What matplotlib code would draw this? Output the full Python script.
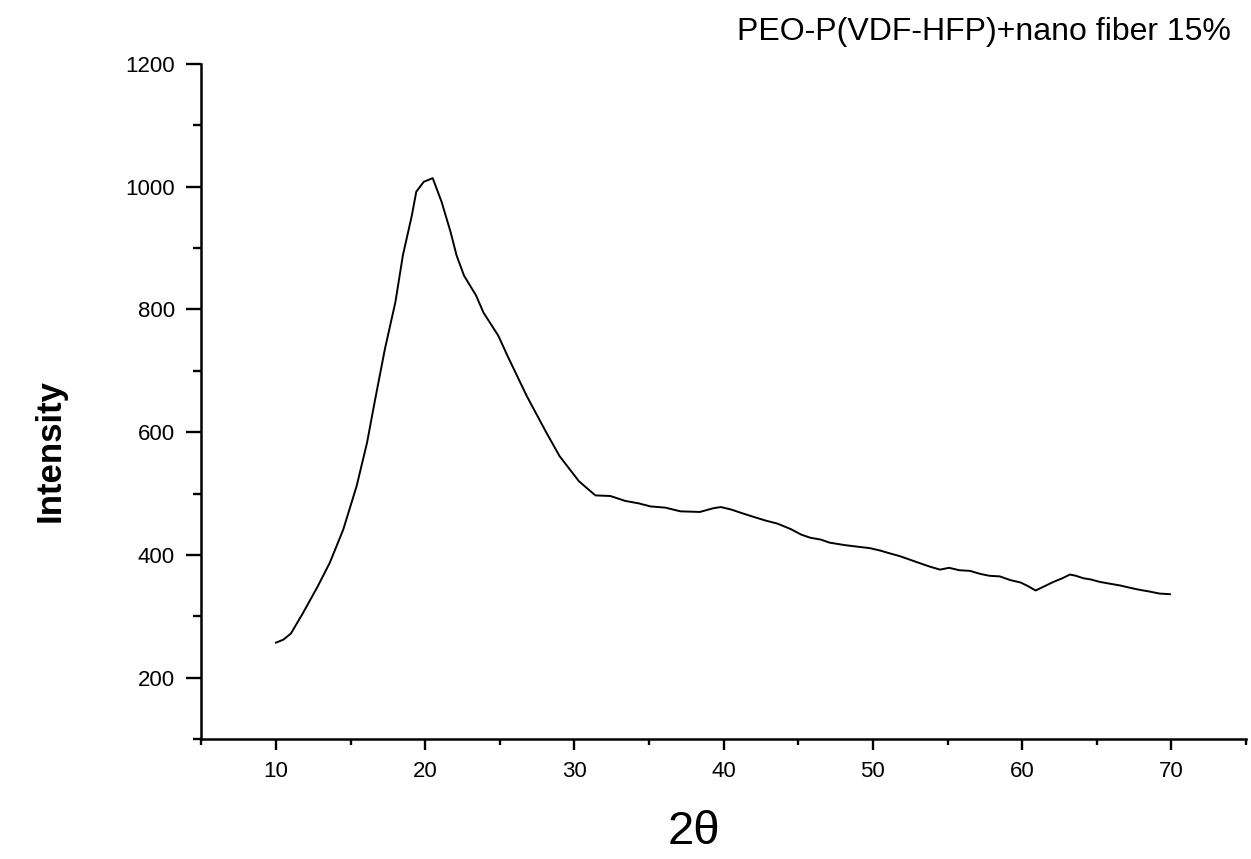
import matplotlib
matplotlib.use('Agg')
import matplotlib.pyplot as plt
from matplotlib.ticker import MultipleLocator

# XRD pattern
two_theta = [10.0, 10.5, 11.0, 11.8, 12.8, 13.6, 14.5, 15.4, 16.1, 16.6, 17.3,
             18.0, 18.5, 19.1, 19.4, 19.9, 20.5, 21.1, 21.7, 22.1, 22.6, 23.4,
             23.9, 24.9, 25.5, 26.8, 28.1, 29.0, 30.3, 31.4, 32.4, 33.4, 34.3,
             35.1, 36.1, 37.1, 38.4, 39.3, 39.8, 40.5, 41.1, 42.0, 42.8, 43.6,
             44.5, 45.2, 45.8, 46.5, 47.1, 48.1, 49.1, 49.8, 50.5, 51.2, 51.8,
             52.5, 53.2, 53.8, 54.5, 55.1, 55.8, 56.5, 57.2, 57.8, 58.5, 59.2,
             59.9, 60.4, 60.9, 61.5, 62.1, 62.7, 63.2, 63.6, 64.1, 64.6, 65.2,
             65.9, 66.6, 67.3, 67.9, 68.6, 69.2, 69.9]
intensity = [257, 262, 272, 305, 349, 387, 441, 512, 583, 648, 736,
             812, 888, 953, 992, 1008, 1014, 975, 926, 888, 855, 823,
             795, 757, 725, 659, 600, 561, 520, 497, 496, 488, 484,
             479, 477, 471, 470, 476, 478, 474, 469, 462, 456, 451,
             442, 433, 428, 425, 420, 416, 413, 411, 407, 402, 398,
             392, 386, 381, 376, 379, 375, 374, 369, 366, 365, 359,
             355, 349, 342, 349, 356, 362, 368, 366, 362, 360, 356,
             353, 350, 346, 343, 340, 337, 336]

x_ticks = [10, 20, 30, 40, 50, 60, 70]
y_ticks = [200, 400, 600, 800, 1000, 1200]

plt.rcParams['font.family'] = ['Liberation Sans', 'DejaVu Sans']

fig = plt.figure(figsize=(12.51, 8.59), dpi=100)
ax = fig.add_axes([0.161, 0.1397, 0.835, 0.7858])

ax.plot(two_theta, intensity, color='black', linewidth=1.4)

ax.set_xlim(5, 75)
ax.set_ylim(100, 1200)
ax.set_xticks(x_ticks)
ax.set_yticks(y_ticks)
ax.xaxis.set_minor_locator(MultipleLocator(5))
ax.yaxis.set_minor_locator(MultipleLocator(100))

for side in ['top', 'right']:
    ax.spines[side].set_visible(False)
for side in ['left', 'bottom']:
    ax.spines[side].set_linewidth(1.8)

ax.tick_params(axis='x', which='major', direction='out', length=8, width=1.7,
               pad=8, labelsize=16)
ax.tick_params(axis='x', which='minor', direction='out', length=4.5, width=1.7)
ax.tick_params(axis='y', which='major', direction='out', length=11, width=1.7,
               pad=8, labelsize=16)
ax.tick_params(axis='y', which='minor', direction='out', length=6, width=1.7)

fig.text(0.04, 0.475, 'Intensity', rotation=90, fontsize=25, fontweight='bold',
         ha='center', va='center')
fig.text(0.555, 0.032, '2θ', fontsize=34, ha='center', va='center')
fig.text(0.984, 0.963, 'PEO-P(VDF-HFP)+nano fiber 15%', fontsize=23,
         ha='right', va='center')

fig.savefig('out.png', dpi=100, facecolor='white')
